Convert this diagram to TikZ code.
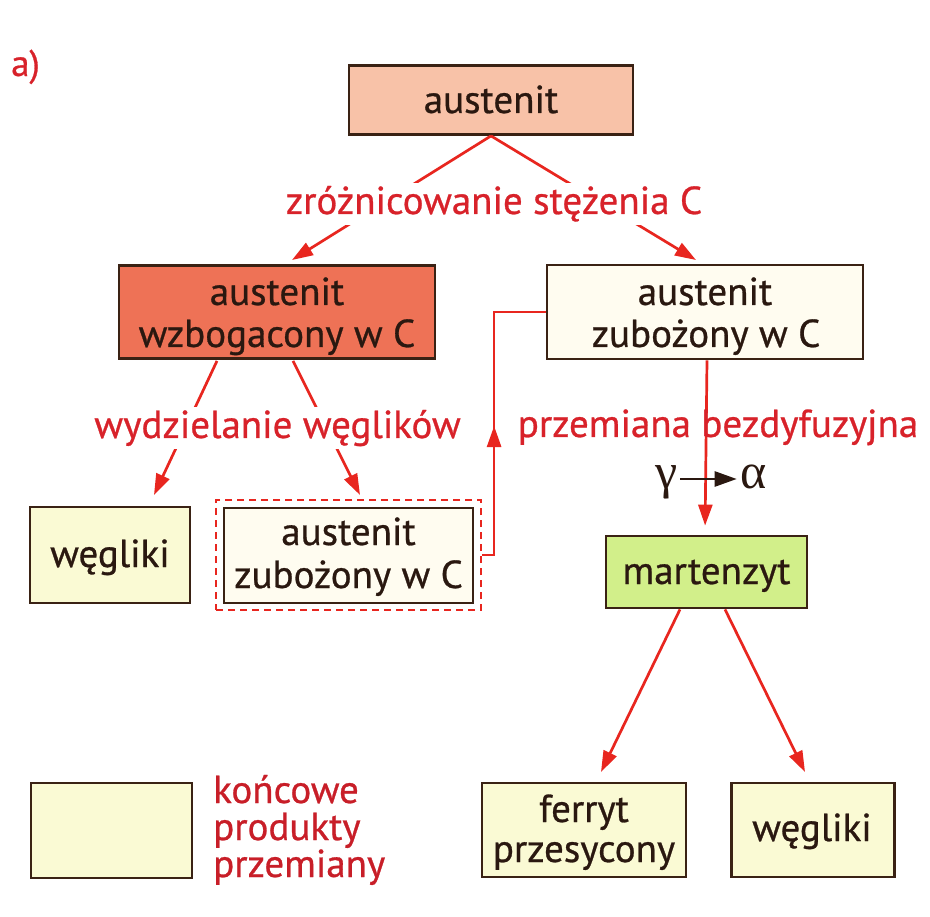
\documentclass[tikz,border=0pt]{standalone}
\usepackage{fontspec}
\setmainfont{PT Sans}[FakeBold=0.7]
\newfontfamily\grk{Liberation Serif}
\usetikzlibrary{arrows.meta,decorations.markings,calc}
\definecolor{lred}{HTML}{E8261F}
\definecolor{tred}{HTML}{D8222A}
\definecolor{kred}{HTML}{C81E28}
\definecolor{bord}{HTML}{3A2214}
\definecolor{ink}{HTML}{2A1810}
\definecolor{fAus}{HTML}{F8C2A8}
\definecolor{fRich}{HTML}{EE7256}
\definecolor{fPoor}{HTML}{FFFCF0}
\definecolor{fEnd}{HTML}{FAFAD4}
\definecolor{fMart}{HTML}{D2EF8A}
\begin{document}
\begin{tikzpicture}[x=1pt,y=-1pt,
  box/.style={draw=bord, line width=2.8pt, inner sep=0pt},
  txt/.style={anchor=base, inner sep=0pt, text=ink, font=\fontsize{39}{39}\selectfont},
  lbl/.style={anchor=base, inner sep=0pt, text=tred, font=\fontsize{39}{39}\selectfont},
  conn/.style={draw=lred, line width=2.7pt, -{Triangle[length=21pt,width=14pt]}},
  plain/.style={draw=lred, line width=2.7pt},
  midarrow/.style={postaction={decorate}, decoration={markings,
      mark=at position #1 with {\arrow{Triangle[length=21pt,width=14pt]}}}},
]
\useasboundingbox[fill=white] (0,0) rectangle (930,917);

% boxes
\node[box, fill=fAus,  minimum width=284pt, minimum height=69pt] (A)  at (491,100) {};
\node[box, fill=fRich, minimum width=316pt, minimum height=93pt] (L)  at (277,312) {};
\node[box, fill=fPoor, minimum width=316pt, minimum height=94pt] (R)  at (705,312) {};
\node[box, fill=fEnd,  minimum width=160pt, minimum height=96pt] (WL) at (110,555) {};
\node[draw=lred, line width=2.2pt, dash pattern=on 7pt off 5pt, inner sep=0pt,
      minimum width=265pt, minimum height=110pt] (D) at (348.5,555) {};
\node[box, fill=fPoor, minimum width=249pt, minimum height=95pt] (Di) at (348.5,555.5) {};
\node[box, fill=fMart, minimum width=201pt, minimum height=72pt] (M)  at (706.5,572) {};
\node[box, fill=fEnd,  minimum width=204pt, minimum height=94pt] (F)  at (584,830) {};
\node[box, fill=fEnd,  minimum width=163pt, minimum height=94pt] (WR) at (813,830) {};
\node[box, fill=fEnd,  minimum width=161pt, minimum height=95pt] (LG) at (111.5,830.5) {};

% box texts
\node[txt] (At)  at (491,113) {austenit};
\node[txt] (Lt1) at (277,305) {austenit};
\node[txt] (Lt2) at (277,347) {wzbogacony w C};
\node[txt] (Rt1) at (705,305) {austenit};
\node[txt] (Rt2) at (706,347) {zubożony w C};
\node[txt] (WLt) at (110,567) {węgliki};
\node[txt] (Dt1) at (348.5,545) {austenit};
\node[txt] (Dt2) at (348.5,588) {zubożony w C};
\node[txt] (Mt)  at (706.5,584) {martenzyt};
\node[txt] (Ft1) at (584,822) {ferryt};
\node[txt] (Ft2) at (584,862) {przesycony};
\node[txt] (WRt) at (812,841) {węgliki};

% connector end points
\coordinate (tL)  at (292,260);
\coordinate (tR)  at (696,260);
\coordinate (tWL) at (154,495);
\coordinate (tD)  at (360,495);
\coordinate (tF)  at (601,772);
\coordinate (tWR) at (805,772);

% connectors
\draw[conn] (A.south) -- (tL);
\draw[conn] (A.south) -- (tR);
\draw[conn] ($(L.south)+(-60,1)$) -- (tWL);
\draw[conn] ($(L.south)+(16,1)$) -- (tD);
\draw[conn, shorten >=9pt] ($(R.south)+(2,0)$) -- ($(M.north)+(-1.5,0)$);
\draw[plain, midarrow=0.46] (D.east) -- ++(12,0) |- (R.west);
\draw[conn] ($(M.south)+(-26.5,0)$) -- (tF);
\draw[conn] ($(M.south)+(18.5,0)$) -- (tWR);

% labels
\node[lbl, fill=white, inner xsep=1pt, inner ysep=3pt] (zr) at (494,214) {zróżnicowanie stężenia C};
\node[lbl, fill=white, inner xsep=1pt, inner ysep=3pt] (wy) at (277.5,438) {wydzielanie węglików};
\node[lbl] (pb) at (718,437) {przemiana bezdyfuzyjna};

\node[anchor=base, inner sep=0pt, text=ink, font=\grk\fontsize{50}{50}\selectfont] (g)  at (667,489) {γ};
\node[anchor=base, inner sep=0pt, text=ink, font=\grk\fontsize{50}{50}\selectfont] (al) at (754,489) {α};
\draw[draw=ink, line width=2.6pt, -{Triangle[length=22pt,width=15pt]}]
  ($(g.base east)+(2,-10)$) -- ($(al.base west)+(-4,-10)$);

\node[lbl, anchor=base west, font=\fontsize{37}{37}\selectfont] (a) at (11,76) {a)};
\node[lbl, anchor=base west, text=kred] (k1) at (213,803) {końcowe};
\node[lbl, anchor=base west, text=kred] (k2) at (213,840) {produkty};
\node[lbl, anchor=base west, text=kred] (k3) at (213,877) {przemiany};
\end{tikzpicture}
\end{document}
